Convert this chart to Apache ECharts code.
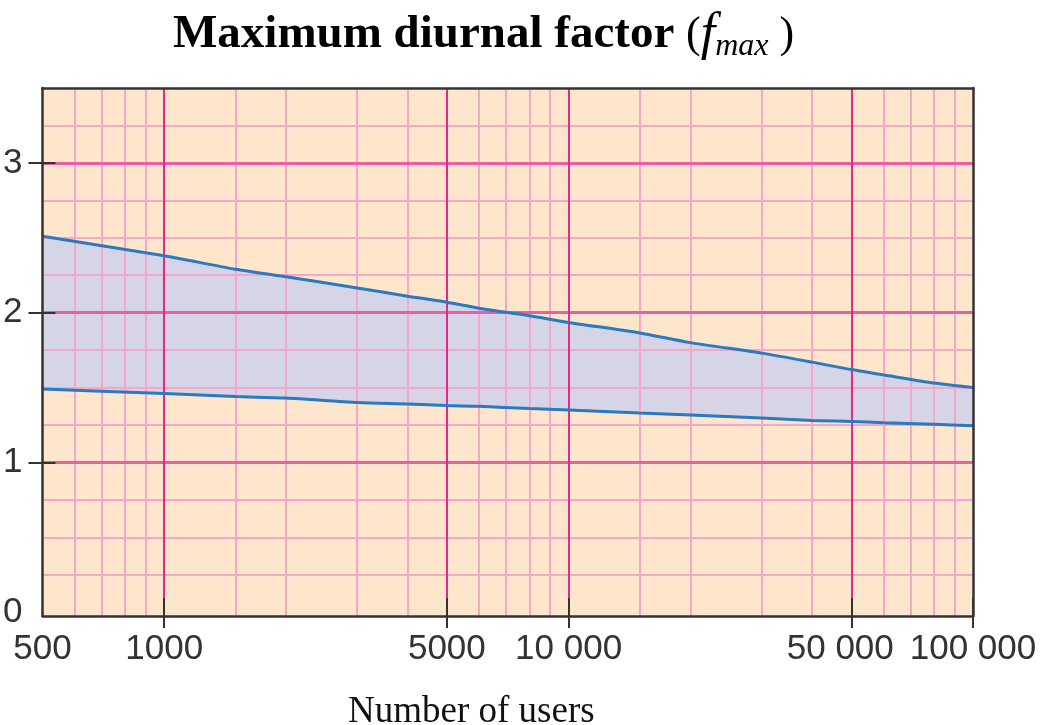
<!DOCTYPE html>
<html>
<head>
<meta charset="utf-8">
<script src="https://cdn.jsdelivr.net/npm/echarts@6/dist/echarts.min.js"></script>
<style>
  html, body { margin: 0; padding: 0; background: #ffffff; }
  #chart { width: 1042px; height: 725px; }
</style>
</head>
<body>
<div id="chart"></div>
<script>
// Number of users served (plotted on a logarithmic axis)
const users = [500, 1000, 1500, 2000, 3000, 4000, 5000, 6000, 8000, 10000, 15000, 20000, 30000, 40000, 50000, 60000, 80000, 100000];
// Upper and lower limits of the maximum diurnal factor
const upperFactor = [2.51, 2.38, 2.29, 2.24, 2.165, 2.11, 2.07, 2.03, 1.98, 1.935, 1.865, 1.80, 1.73, 1.67, 1.62, 1.585, 1.53, 1.50];
const lowerFactor = [1.49, 1.46, 1.44, 1.43, 1.40, 1.39, 1.38, 1.375, 1.36, 1.35, 1.33, 1.317, 1.297, 1.28, 1.274, 1.265, 1.255, 1.245];

// Axis labels, tick marks and grid lines
const userLabels = [500, 1000, 5000, 10000, 50000, 100000];
const userTicks = [1000, 5000, 10000, 50000, 100000];
const factorLabels = [0, 1, 2, 3];
const factorTicks = [1, 2, 3];
const majorUserLines = [1000, 5000, 10000, 50000];
const minorUserLines = [600, 700, 800, 900, 1500, 2000, 3000, 4000, 6000, 7000, 8000, 9000, 15000, 20000, 30000, 40000, 60000, 70000, 80000, 90000];
const majorFactorLines = [1, 2, 3];
const minorFactorLines = [0.25, 0.5, 0.75, 1.25, 1.5, 1.75, 2.25, 2.5, 2.75, 3.25];

const PEACH = '#fde6cc';
const LAVENDER = '#d6d5e8';
const MINOR = '#f5a6c9';
const MAJOR_V = '#e6288d';
const MAJOR_H = '#ea5ea4';
const BLUE = '#2b79bf';
const INK = '#333333';

const X_MIN = 500, X_MAX = 100000;
const Y_MIN = -0.025, Y_MAX = 3.5;

const pairs = ys => users.map((u, i) => [u, ys[i]]);
const groupDigits = n => n >= 10000 ? String(n).replace(/\B(?=(\d{3})+(?!\d))/g, ' ') : String(n);
// 50 000 sits a little left of its tick so it clears 100 000
const fmtUsers = v => {
  const n = Math.round(Number(v));
  return n === 50000 ? '{shift|' + groupDigits(n) + '}' : groupDigits(n);
};

const gridLines = [].concat(
  minorUserLines.map(v => ({ xAxis: v, lineStyle: { color: MINOR, width: 2, type: 'solid' } })),
  minorFactorLines.map(v => ({ yAxis: v, lineStyle: { color: MINOR, width: 2, type: 'solid' } })),
  majorFactorLines.map(v => ({ yAxis: v, lineStyle: { color: MAJOR_H, width: 3, type: 'solid' } })),
  majorUserLines.map(v => ({ xAxis: v, lineStyle: { color: MAJOR_V, width: 2, type: 'solid' } }))
);

const labelFont = { fontFamily: 'Liberation Sans', fontSize: 35, color: INK };
const off = () => ({ show: false });

const chart = echarts.init(document.getElementById('chart'), null, { renderer: 'canvas' });
chart.setOption({
  animation: false,
  backgroundColor: '#ffffff',
  title: [
    {
      text: '{b|Maximum diurnal factor }{p|(}{i|f}{s|max}{p| )}',
      left: 168,
      top: 2,
      textStyle: {
        rich: {
          b: { fontFamily: 'Liberation Serif', fontWeight: 'bold', fontSize: 47, lineHeight: 56, color: '#000' },
          p: { fontFamily: 'Liberation Serif', fontWeight: 'normal', fontSize: 44, lineHeight: 56, color: '#000' },
          i: { fontFamily: 'Liberation Serif', fontWeight: 'normal', fontStyle: 'italic', fontSize: 52, lineHeight: 56, color: '#000' },
          s: { fontFamily: 'Liberation Serif', fontWeight: 'normal', fontStyle: 'italic', fontSize: 32, lineHeight: 44, verticalAlign: 'bottom', color: '#000' }
        }
      }
    },
    {
      text: 'Number of users',
      left: 343,
      top: 689,
      textStyle: { fontFamily: 'Liberation Serif', fontWeight: 'normal', fontSize: 37, color: '#111' }
    }
  ],
  grid: {
    left: 42, right: 69, top: 88, bottom: 109,
    show: true, backgroundColor: PEACH, borderWidth: 0
  },
  xAxis: [
    {
      type: 'log', logBase: 10, min: X_MIN, max: X_MAX, position: 'bottom', z: 5,
      axisLine: { show: true, onZero: false, lineStyle: { color: INK, width: 2.5 } },
      axisTick: { show: true, inside: false, length: 12, customValues: userTicks, lineStyle: { color: INK, width: 2 } },
      axisLabel: Object.assign({
        show: true, margin: 16, customValues: userLabels, formatter: fmtUsers,
        rich: { shift: Object.assign({ padding: [0, 22, 0, 0] }, labelFont) }
      }, labelFont),
      splitLine: off(), minorTick: off(), minorSplitLine: off()
    },
    {
      type: 'log', logBase: 10, min: X_MIN, max: X_MAX, position: 'bottom', z: 6,
      axisLine: { show: false, onZero: false },
      axisTick: { show: true, inside: true, length: 18, customValues: userTicks, lineStyle: { color: INK, width: 2 } },
      axisLabel: off(), splitLine: off()
    },
    {
      type: 'log', logBase: 10, min: X_MIN, max: X_MAX, position: 'top', z: 5,
      axisLine: { show: true, onZero: false, lineStyle: { color: INK, width: 2.5 } },
      axisTick: off(), axisLabel: off(), splitLine: off()
    }
  ],
  yAxis: [
    {
      type: 'value', min: Y_MIN, max: Y_MAX, position: 'left', z: 5,
      axisLine: { show: true, onZero: false, lineStyle: { color: INK, width: 2.5 } },
      axisTick: { show: true, inside: false, length: 14, customValues: factorTicks, lineStyle: { color: INK, width: 2 } },
      axisLabel: Object.assign({ show: true, margin: 20, customValues: factorLabels }, labelFont),
      splitLine: off()
    },
    {
      type: 'value', min: Y_MIN, max: Y_MAX, position: 'left', z: 6,
      axisLine: { show: false, onZero: false },
      axisTick: { show: true, inside: true, length: 13, customValues: factorTicks, lineStyle: { color: INK, width: 2 } },
      axisLabel: off(), splitLine: off()
    },
    {
      type: 'value', min: Y_MIN, max: Y_MAX, position: 'right', z: 5,
      axisLine: { show: true, onZero: false, lineStyle: { color: INK, width: 2.5 } },
      axisTick: off(), axisLabel: off(), splitLine: off()
    }
  ],
  series: [
    {
      name: 'range', type: 'line', data: pairs(upperFactor), symbol: 'none', silent: true, z: 1, smooth: 0.25,
      lineStyle: { opacity: 0 }, areaStyle: { color: LAVENDER, opacity: 1 }
    },
    {
      name: 'below range', type: 'line', data: pairs(lowerFactor), symbol: 'none', silent: true, z: 1, smooth: 0.25,
      lineStyle: { opacity: 0 }, areaStyle: { color: PEACH, opacity: 1 },
      markLine: {
        silent: true, z: 3, symbol: ['none', 'none'], label: { show: false },
        emphasis: { disabled: true }, animation: false,
        data: gridLines
      }
    },
    {
      name: 'upper limit', type: 'line', data: pairs(upperFactor), symbol: 'none', z: 4, smooth: 0.25,
      lineStyle: { color: BLUE, width: 3 }
    },
    {
      name: 'lower limit', type: 'line', data: pairs(lowerFactor), symbol: 'none', z: 4, smooth: 0.25,
      lineStyle: { color: BLUE, width: 3 }
    }
  ]
});
</script>
</body>
</html>
